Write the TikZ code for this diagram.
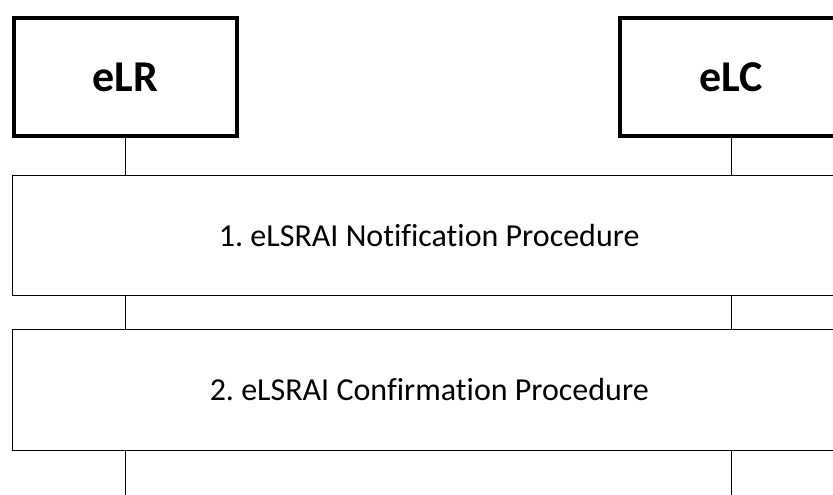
\documentclass[tikz,border=0pt]{standalone}
\usepackage{fontspec}
\setmainfont[Ligatures=NoCommon]{Carlito}
\usepackage{tikz}
\usetikzlibrary{calc, positioning}

\tikzset{
    entity/.style={draw, line width=4pt, minimum width=223pt, minimum height=118pt,
        inner sep=0pt, font=\fontsize{44}{50}\selectfont\bfseries},
    proc/.style={draw, line width=1pt, fill=white, minimum width=833pt, inner sep=0pt,
        font=\fontsize{32}{38}\selectfont},
}

\begin{document}
\frenchspacing
\begin{tikzpicture}[x=1pt, y=-1pt]
        \useasboundingbox (0,0) rectangle (833,495);
        \clip (0,0) rectangle (833,495);
        \node[entity] (elr) at (125.5,77) {eLR};
        \node[entity] (elc) at (731,77) {eLC};
        \node[proc, minimum height=120pt] (notif) at (429.25,235.5) {1. eLSRAI Notification Procedure};
        \node[proc, minimum height=121pt] (conf) at (429.25,390) {2. eLSRAI Confirmation Procedure};
        \coordinate (elrend) at (125.5,495);
        \coordinate (elcend) at (731,495);
        \draw[line width=1pt] (elr) -- (notif.north -| elr)
        (notif.south -| elr) -- (conf.north -| elr)
        (conf.south -| elr) -- (elrend)
        (elc) -- (notif.north -| elc)
        (notif.south -| elc) -- (conf.north -| elc)
        (conf.south -| elc) -- (elcend);
    \end{tikzpicture}
\end{document}
